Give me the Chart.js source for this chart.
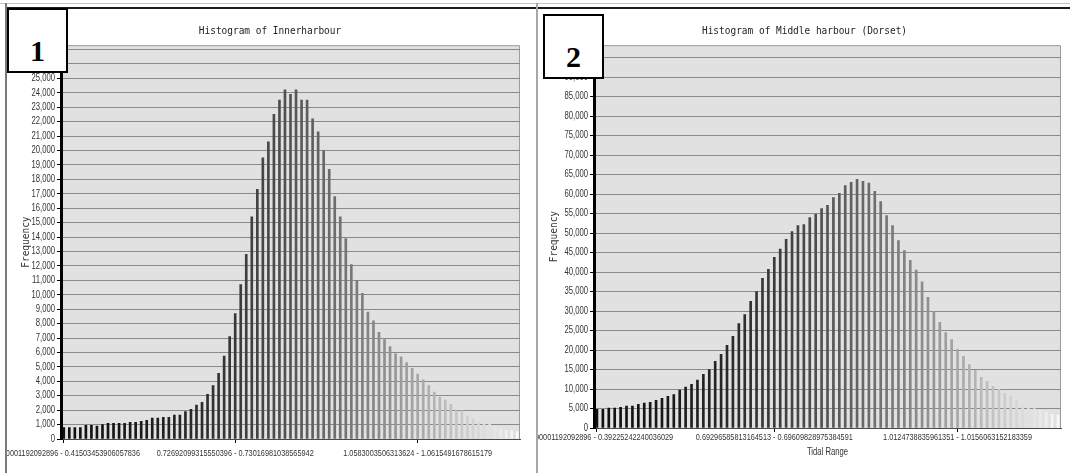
<!DOCTYPE html>
<html>
<head>
<meta charset="utf-8">
<script src="https://cdn.jsdelivr.net/npm/chart.js@4.4.1/dist/chart.umd.min.js"></script>
<style>
  body { margin: 0; width: 1070px; height: 473px; background: #fff; position: relative; overflow: hidden; }
  .linha { position: absolute; }
  .painel { position: absolute; overflow: hidden; }
  .painel canvas { position: absolute; }
  .etiqueta {
    position: absolute; box-sizing: border-box; width: 61px; height: 65px;
    border: 2px solid #000; background: #fff; text-align: center;
    padding-top: 24px; font: bold 30px "Liberation Serif", "DejaVu Serif", serif; line-height: normal;
    z-index: 5;
  }
</style>
</head>
<body>

<div class="linha" style="left:0;top:3px;width:1070px;height:1px;background:#c4c4c4"></div>
<div class="linha" style="left:5px;top:7px;width:1065px;height:2px;background:#1c1c1c"></div>
<div class="linha" style="left:5px;top:3px;width:2px;height:470px;background:#7a7a7a"></div>
<div class="linha" style="left:536px;top:3px;width:2px;height:470px;background:#a8a8a8"></div>

<div class="painel" style="left:7px;top:9px;width:529px;height:464px">
  <canvas id="histInner" width="620" height="473" style="left:-52px;top:-9px"></canvas>
</div>
<div class="painel" style="left:538px;top:9px;width:532px;height:464px">
  <canvas id="histMiddle" width="626" height="473" style="left:-48px;top:-9px"></canvas>
</div>

<div class="etiqueta" style="left:7px;top:8px">1</div>
<div class="etiqueta" style="left:543px;top:14px">2</div>

<script>
/* ============================================================
DADOS
============================================================ */

const freqInner = [
  800, 800, 800, 800, 950, 950, 900, 1000, 1080, 1080,
  1080, 1080, 1150, 1150, 1230, 1300, 1450, 1450, 1500, 1500,
  1650, 1650, 1900, 2050, 2350, 2550, 3100, 3700, 4550, 5750,
  7100, 8700, 10700, 12800, 15400, 17300, 19500, 20600, 22500, 23500,
  24200, 23900, 24200, 23500, 23500, 22200, 21300, 20000, 18700, 16800,
  15400, 13900, 12100, 11000, 10100, 8800, 8200, 7400, 6900, 6400,
  5900, 5700, 5300, 4900, 4500, 4100, 3700, 3250, 2900, 2700,
  2400, 1950, 1950, 1600, 1400, 1150, 1050, 1050, 850, 700,
  600, 570, 500,
];

const freqMiddle = [
  4800, 4800, 5100, 5100, 5300, 5600, 5600, 6100, 6400, 6600,
  7100, 7600, 8100, 8600, 9700, 10500, 11200, 12300, 13800, 15000,
  17100, 18900, 21200, 23500, 26800, 29100, 32500, 35000, 38400, 40700,
  43800, 45900, 48400, 50400, 51900, 52200, 54000, 54800, 56300, 57100,
  59100, 60200, 62200, 63000, 63800, 63300, 62800, 60700, 58100, 54500,
  51900, 48100, 45500, 43000, 40500, 37500, 33500, 29900, 27100, 24500,
  22700, 20200, 18400, 16300, 14800, 13000, 12000, 10700, 9900, 8900,
  8100, 7100, 5600, 5300, 5000, 4500, 4000, 3500, 3300,
];

// categorias que aparecem no eixo x
const tickPosInner = [0, 31, 64];
const tickTextInner = [
  "0.0000001192092896 - 0.41503453906057836",
  "0.72692099315550396 - 0.73016981038565942",
  "1.0583003506313624 - 1.0615491678615179",
];

const tickPosMiddle = [0, 30, 61];
const tickTextMiddle = [
  "0.0000001192092896 - 0.39225242240036029",
  "0.69296585813164513 - 0.69609828975384591",
  "1.0124738835961351 - 1.0156063152183359",
];

/* ============================================================
ESTILO
============================================================ */

const MONO = "'DejaVu Sans Mono', 'Liberation Mono', monospace";
const SANS = "'Liberation Sans', Arial, sans-serif";

// preto -> branco ao longo das barras
function gerarCinzas(qtd) {
  const cores = [];
  for (let i = 0; i < qtd; i++) {
    const t = i / (qtd - 1);
    const g = Math.round(17 + 233 * Math.pow(t, 1.8));
    cores.push(`rgb(${g},${g},${g})`);
  }
  return cores;
}

function montarLabels(valores, posicoes, textos) {
  return valores.map((_, i) => {
    const k = posicoes.indexOf(i);
    return k >= 0 ? textos[k] : "";
  });
}

/* fundo cinza + borda da área do gráfico */
const fundoPlugin = {
  id: "fundoPlot",
  beforeDraw(chart) {
    const { ctx, chartArea: a } = chart;
    ctx.save();
    ctx.fillStyle = "#e1e1e1";
    ctx.fillRect(a.left, a.top, a.right - a.left, a.bottom - a.top);
    ctx.strokeStyle = "#9c9c9c";
    ctx.lineWidth = 1;
    ctx.beginPath();
    ctx.moveTo(a.left, a.top + 0.5);
    ctx.lineTo(a.right - 0.5, a.top + 0.5);
    ctx.lineTo(a.right - 0.5, a.bottom);
    ctx.stroke();
    ctx.restore();
  },
};

/* texto estreito (a fonte do original é condensada) */
const estreitoPlugin = {
  id: "textoEstreito",
  beforeDraw(chart) {
    const ctx = chart.ctx;
    if (ctx._estreito) return;
    const original = ctx.fillText.bind(ctx);
    ctx.fillText = function (txt, x, y, maxW) {
      const f = /Mono/.test(ctx.font) ? 0.86 : 0.77;
      ctx.save();
      ctx.translate(x, y);
      ctx.scale(f, 1);
      if (maxW === undefined) original(txt, 0, 0);
      else original(txt, 0, 0, maxW / f);
      ctx.restore();
    };
    ctx._estreito = true;
  },
};

/* ============================================================
HISTOGRAMA
============================================================ */

function criarHistograma(id, cfg) {
  const canvas = document.getElementById(id);
  if (!canvas) return;

  new Chart(canvas, {
    type: "bar",
    data: {
      labels: montarLabels(cfg.valores, cfg.tickPos, cfg.tickText),
      datasets: [
        {
          data: cfg.valores,
          backgroundColor: gerarCinzas(cfg.valores.length),
          borderWidth: 0,
          barThickness: 2,
        },
      ],
    },
    options: {
      responsive: false,
      animation: false,
      layout: { padding: { left: cfg.padLeft, right: cfg.padRight, top: 0, bottom: 0 } },
      plugins: {
        legend: { display: false },
        tooltip: { enabled: false },
        title: {
          display: true,
          text: cfg.titulo,
          color: "#222",
          font: { family: MONO, size: 11, weight: "normal" },
          padding: { top: 25, bottom: 7 },
        },
      },
      scales: {
        x: {
          offset: true,
          ticks: {
            autoSkip: false,
            maxRotation: 0,
            minRotation: 0,
            padding: cfg.xPad,
            color: "#333",
            font: { family: SANS, size: 9.5 },
          },
          grid: {
            offset: false,
            drawOnChartArea: false,
            tickLength: 4,
            color: (ctx) => (cfg.tickPos.includes(ctx.index) ? "#000" : "rgba(0,0,0,0)"),
          },
          border: { color: "#4a4a4a", width: 1 },
          title: {
            display: !!cfg.tituloX,
            text: cfg.tituloX || "",
            color: "#333",
            font: { family: SANS, size: 10 },
            padding: { top: 0, bottom: 15 },
          },
          afterFit: (s) => {
            s.height = cfg.alturaX;
          },
        },
        y: {
          min: 0,
          max: cfg.max,
          ticks: {
            autoSkip: false,
            padding: 2,
            color: "#333",
            font: { family: SANS, size: 10 },
            callback: (v) => v.toLocaleString("en-US"),
          },
          // um tick a cada "passo"
          afterBuildTicks: (s) => {
            const t = [];
            for (let v = 0; v <= s.max; v += cfg.passo) t.push({ value: v });
            s.ticks = t;
          },
          grid: { color: "#8a8a8a", lineWidth: 1, tickLength: 4, tickColor: "#000" },
          border: { color: "#000", width: 3 },
          title: {
            display: true,
            text: "Frequency",
            color: "#333",
            font: { family: MONO, size: 11 },
            padding: { top: cfg.yTitPad, bottom: 0 },
          },
          afterFit: (s) => {
            s.width = cfg.larguraY;
          },
        },
      },
    },
    plugins: [fundoPlugin, estreitoPlugin],
  });
}

criarHistograma("histInner", {
  valores: freqInner,
  tickPos: tickPosInner,
  tickText: tickTextInner,
  titulo: "Histogram of Innerharbour",
  max: 27300,
  passo: 1000,
  padLeft: 65,
  padRight: 55,
  larguraY: 41,
  yTitPad: 0,
  alturaX: 34,
  xPad: 5,
});

criarHistograma("histMiddle", {
  valores: freqMiddle,
  tickPos: tickPosMiddle,
  tickText: tickTextMiddle,
  titulo: "Histogram of Middle harbour (Dorset)",
  tituloX: "Tidal Range",
  max: 98200,
  passo: 5000,
  padLeft: 58,
  padRight: 55,
  larguraY: 46,
  yTitPad: 0,
  alturaX: 45,
  xPad: 0,
});
</script>
</body>
</html>
